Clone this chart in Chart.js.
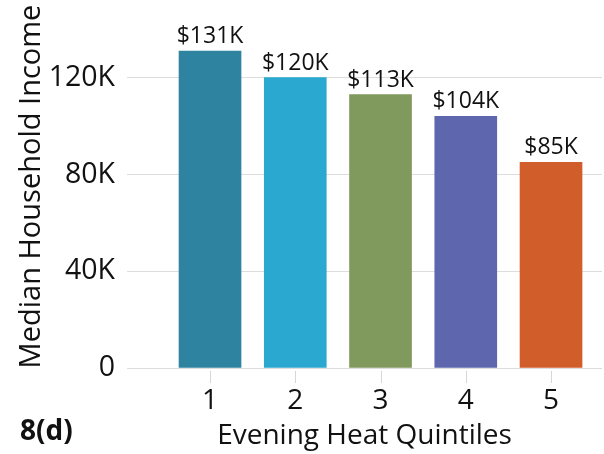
<!DOCTYPE html>
<html>
<head>
<meta charset="utf-8">
<script src="https://cdn.jsdelivr.net/npm/chart.js@4"></script>
<style>
html, body { margin: 0; padding: 0; background: #fff; }
#wrap { width: 604px; height: 454px; }
</style>
</head>
<body>
<div id="wrap"><canvas id="myChart"></canvas></div>
<script>
const quintiles = ["1", "2", "3", "4", "5"];
const incomeK = [131, 120, 113, 104, 85];
const barColors = ["#2e83a0", "#2aa8d0", "#80995c", "#5e67ae", "#d05d2a"];
const yTicks = [0, 40, 80, 120];
const panelTag = "8(d)";

const FONT = "'Open Sans', sans-serif";
const INK = "#111";

// "$131K" over each bar, small x tick marks, and the panel tag at bottom left
const valueLabels = {
  id: "valueLabels",
  afterDatasetsDraw(chart) {
    const ctx = chart.ctx;
    const meta = chart.getDatasetMeta(0);
    const xs = chart.scales.x;
    const base = chart.chartArea.bottom;
    ctx.save();
    ctx.strokeStyle = "#d6d6d6";
    ctx.lineWidth = 1;
    quintiles.forEach(q => {
      const px = Math.round(xs.getPixelForValue(Number(q))) + 0.5;
      ctx.beginPath();
      ctx.moveTo(px, base + 3);
      ctx.lineTo(px, base + 15);
      ctx.stroke();
    });
    ctx.font = "23px " + FONT;
    ctx.fillStyle = INK;
    ctx.textAlign = "center";
    ctx.textBaseline = "alphabetic";
    meta.data.forEach((bar, i) => {
      ctx.fillText("$" + incomeK[i] + "K", bar.x, bar.y - 8);
    });
    ctx.font = "bold 28px " + FONT;
    ctx.textAlign = "left";
    ctx.fillText(panelTag, 20, 440);
    ctx.restore();
  }
};

new Chart("myChart", {
  type: "bar",
  data: {
    datasets: [{
      data: quintiles.map((q, i) => ({ x: Number(q), y: incomeK[i] })),
      backgroundColor: barColors,
      barThickness: 62
    }]
  },
  options: {
    responsive: true,
    maintainAspectRatio: false,
    animation: false,
    layout: { padding: { top: 5, right: 2, left: 0, bottom: 0 } },
    plugins: { legend: { display: false }, tooltip: { enabled: false } },
    scales: {
      x: {
        type: "linear",
        offset: false,
        min: 0.026,
        max: 5.598,
        afterBuildTicks: axis => { axis.ticks = quintiles.map(q => ({ value: Number(q) })); },
        afterFit: axis => {
          axis.height = 86;
          axis.paddingLeft = 0;
          axis.paddingRight = 0;
        },
        border: { display: false },
        grid: { display: false, drawTicks: true, tickLength: 16 },
        ticks: { padding: 0, color: INK, font: { family: FONT, size: 28 }, maxRotation: 0, callback: v => String(v) },
        title: { display: true, text: "Evening Heat Quintiles", color: INK, font: { family: FONT, size: 28 }, padding: { top: 0, bottom: 1 } }
      },
      y: {
        min: 0,
        max: 150,
        afterBuildTicks: axis => { axis.ticks = yTicks.map(v => ({ value: v })); },
        afterFit: axis => {
          axis.width = 127;
          axis.paddingTop = 0;
          axis.paddingBottom = 0;
        },
        border: { display: false },
        grid: { color: "#dddddd", drawTicks: false },
        ticks: { padding: 12, color: INK, font: { family: FONT, size: 28.5 }, callback: v => v === 0 ? "0" : v + "K" },
        title: { display: true, text: "Median Household Income", color: INK, font: { family: FONT, size: 29 }, padding: { top: 14, bottom: 0 } }
      }
    }
  },
  plugins: [valueLabels]
});
</script>
</body>
</html>
